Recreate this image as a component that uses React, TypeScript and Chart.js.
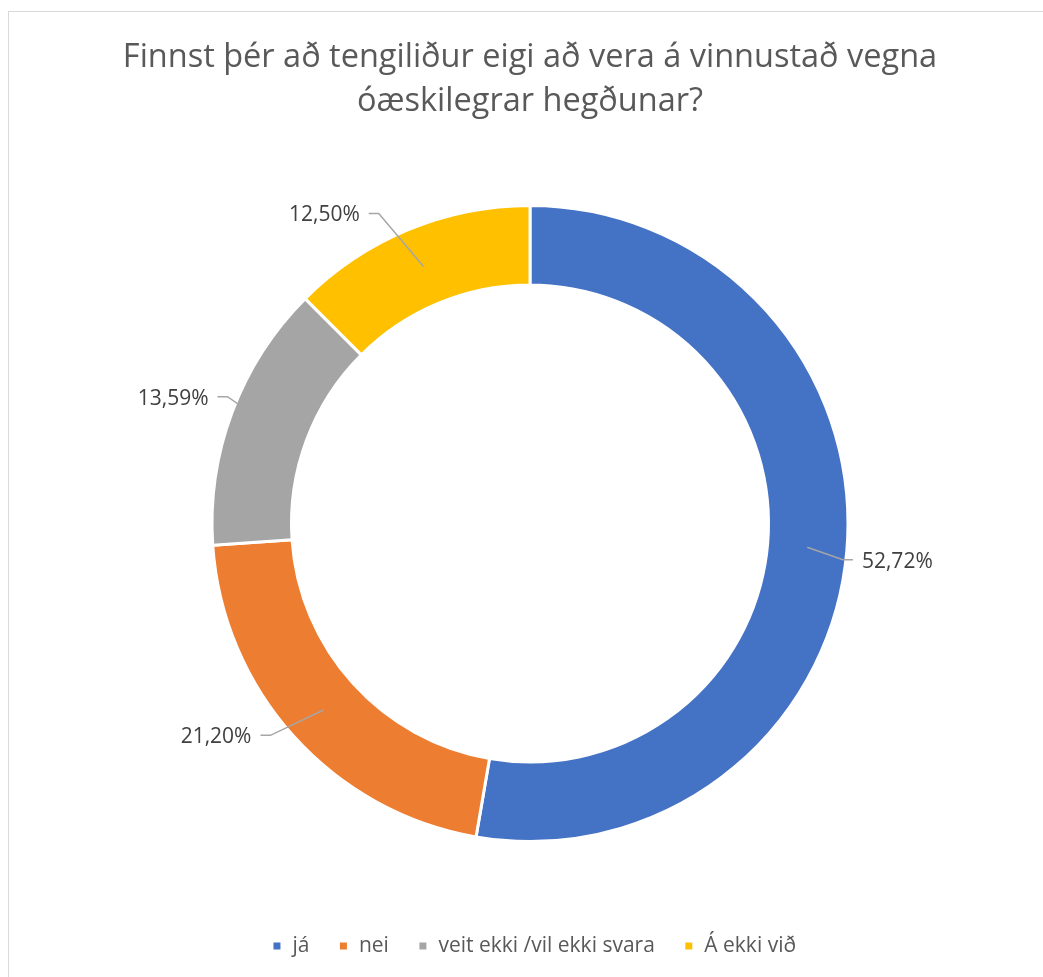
import { useEffect, useRef } from "react";
import { Chart, registerables } from "chart.js";

Chart.register(...registerables);

const titleLines = [
  "Finnst þér að tengiliður eigi að vera á vinnustað vegna",
  "óæskilegrar hegðunar?",
];
const categories = ["já", "nei", "veit ekki /vil ekki svara", "Á ekki við"];
const shares = [52.72, 21.2, 13.59, 12.5];
const valueLabels = ["52,72%", "21,20%", "13,59%", "12,50%"];
const sliceColors = ["#4472C4", "#ED7D31", "#A5A5A5", "#FFC000"];

// label leader styling (distance of elbow from centre, small angular shift in degrees)
const labelRadius = [315, 335, 328, 345];
const labelAngleShift = [1.7, 2.85, 2.2, -3.5];

const FONT = "'Open Sans', 'DejaVu Sans', sans-serif";

const leaderPlugin = {
  id: "leaderLabels",
  afterLayout(chart: any) {
    const lg = chart.legend;
    if (lg) {
      lg.left += 4;
      lg.right += 4;
    }
  },
  afterDatasetsDraw(chart: any) {
    const ctx = chart.ctx;
    const meta = chart.getDatasetMeta(0);
    meta.data.forEach((arc: any, i: number) => {
      const p = arc.getProps(
        ["x", "y", "startAngle", "endAngle", "innerRadius", "outerRadius"],
        true
      );
      const mid = (p.startAngle + p.endAngle) / 2;
      const rm = (p.innerRadius + p.outerRadius) / 2;
      const x0 = p.x + Math.cos(mid) * rm;
      const y0 = p.y + Math.sin(mid) * rm;
      const a = mid + (labelAngleShift[i] * Math.PI) / 180;
      const x1 = p.x + Math.cos(a) * labelRadius[i];
      const y1 = p.y + Math.sin(a) * labelRadius[i];
      const side = Math.cos(a) >= 0 ? 1 : -1;
      const x2 = x1 + side * 10;
      ctx.save();
      ctx.strokeStyle = "#A6A6A6";
      ctx.lineWidth = 1.5;
      ctx.beginPath();
      ctx.moveTo(x0, y0);
      ctx.lineTo(x1, y1);
      ctx.lineTo(x2, y1);
      ctx.stroke();
      ctx.fillStyle = "#404040";
      ctx.font = `21px ${FONT}`;
      ctx.textBaseline = "middle";
      ctx.textAlign = side > 0 ? "left" : "right";
      ctx.fillText(valueLabels[i], x2 + side * 9, y1 + 2);
      ctx.restore();
    });
  },
};

export default function App() {
  const canvasRef = useRef<HTMLCanvasElement | null>(null);

  useEffect(() => {
    document.body.style.overflow = "hidden";
    const canvas = canvasRef.current;
    if (!canvas) return;
    const chart = new Chart(canvas, {
      type: "doughnut",
      data: {
        labels: categories,
        datasets: [
          {
            data: shares,
            backgroundColor: sliceColors,
            borderColor: "#FFFFFF",
            borderWidth: 3,
            radius: 318,
            cutout: "75%",
          } as any,
        ],
      },
      options: {
        responsive: true,
        maintainAspectRatio: false,
        animation: false,
        layout: { padding: { top: 0, bottom: 10.5, left: 17, right: 0 } },
        plugins: {
          title: {
            display: true,
            text: titleLines,
            color: "#595959",
            font: { family: FONT, size: 32.5, weight: "normal", lineHeight: 1.37 },
            padding: { top: 35, bottom: 16.5 },
          },
          legend: {
            display: true,
            position: "bottom",
            labels: {
              color: "#595959",
              font: { family: FONT, size: 21 },
              boxWidth: 10,
              boxHeight: 10,
              padding: 29,
            },
          },
          tooltip: { enabled: false },
        },
      },
      plugins: [leaderPlugin],
    });
    return () => chart.destroy();
  }, []);

  return (
    <div
      style={{
        position: "absolute",
        left: 0,
        top: 0,
        width: 1043,
        height: 977,
        overflow: "hidden",
        background: "#FFFFFF",
      }}
    >
      <div
        style={{
          position: "absolute",
          left: 8,
          top: 11,
          width: 1200,
          height: 1200,
          border: "1px solid #D9D9D9",
          boxSizing: "border-box",
        }}
      />
      <div style={{ position: "absolute", left: 0, top: 0, width: 1043, height: 977 }}>
        <canvas ref={canvasRef} />
      </div>
    </div>
  );
}
